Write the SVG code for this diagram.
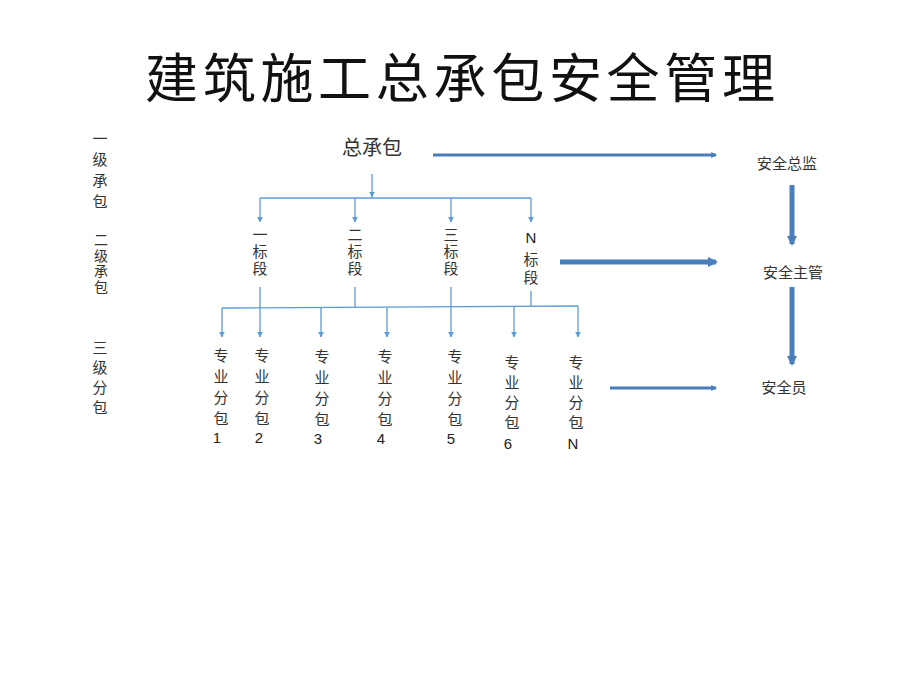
<svg xmlns="http://www.w3.org/2000/svg" width="920" height="690" viewBox="0 0 920 690">
<defs>
<style>
.t{font-family:"Noto Sans CJK SC",sans-serif;fill:#333;text-anchor:middle}
.v{font-family:"Noto Sans CJK SC",sans-serif;fill:#333;writing-mode:tb;text-anchor:start;font-size:15px}
.s{font-size:15px}
.n{font-family:"Liberation Sans",Arial,sans-serif;font-size:15px;fill:#222;text-anchor:middle}
.c{stroke:#5b9bd5;stroke-width:1.3;fill:none}
.b{stroke:#4a7ebb;fill:none}
</style>
<marker id="a" viewBox="0 0 10 10" refX="9" refY="5" markerWidth="6" markerHeight="6" markerUnits="userSpaceOnUse" orient="auto"><path d="M0,0L10,5L0,10z" fill="#5b9bd5"/></marker>
<marker id="ab" viewBox="0 0 10 10" refX="8" refY="5" markerWidth="2" markerHeight="2" orient="auto"><path d="M0,0L10,5L0,10z" fill="#4a7ebb"/></marker>
</defs>
<rect width="920" height="690" fill="#fff"/>
<g id="title"><text x="460" y="98" font-family="Liberation Serif,'Noto Sans CJK SC',serif" font-size="53" fill="#111" text-anchor="middle" textLength="630">建筑施工总承包安全管理</text></g>
<g id="lvl1"><text class="v" x="100" y="131" letter-spacing="6">一级承包</text></g>
<g id="lvl2"><text class="v" x="101" y="233" font-size="14" letter-spacing="1.5" style="font-size:14px">二级承包</text></g>
<g id="lvl3"><text class="v" x="100" y="340" letter-spacing="5">三级分包</text></g>
<g id="zcb"><text class="t" x="372" y="155" font-size="20">总承包</text></g>
<g id="bd1"><text class="v" x="260" y="227" letter-spacing="2">一标段</text></g>
<g id="bd2"><text class="v" x="355" y="227" letter-spacing="2">二标段</text></g>
<g id="bd3"><text class="v" x="451" y="227" letter-spacing="2">三标段</text></g>
<g id="bdN"><text class="n" x="531" y="243">N</text><text class="v" x="531" y="252" letter-spacing="3">标段</text></g>
<g id="fb1"><text class="v" x="221" y="348" letter-spacing="6">专业分包</text><text class="n" x="217" y="443">1</text></g>
<g id="fb2"><text class="v" x="262" y="348" letter-spacing="6">专业分包</text><text class="n" x="259" y="443">2</text></g>
<g id="fb3"><text class="v" x="322" y="349" letter-spacing="6">专业分包</text><text class="n" x="318" y="444">3</text></g>
<g id="fb4"><text class="v" x="385" y="349" letter-spacing="6">专业分包</text><text class="n" x="381" y="444">4</text></g>
<g id="fb5"><text class="v" x="455" y="349" letter-spacing="6">专业分包</text><text class="n" x="451" y="444">5</text></g>
<g id="fb6"><text class="v" x="512" y="355" letter-spacing="5">专业分包</text><text class="n" x="508" y="449">6</text></g>
<g id="fbN"><text class="v" x="576" y="355" letter-spacing="5">专业分包</text><text class="n" x="573" y="449">N</text></g>
<g id="aqzj"><text class="t s" x="787" y="169">安全总监</text></g>
<g id="aqzg"><text class="t s" x="793" y="278">安全主管</text></g>
<g id="aqy"><text class="t s" x="784" y="393">安全员</text></g>
<g id="connectors">
<path class="c" d="M372,174V197" marker-end="url(#a)"/>
<path class="c" d="M260,198H531"/>
<path class="c" d="M260,198V222" marker-end="url(#a)"/>
<path class="c" d="M355,198V222" marker-end="url(#a)"/>
<path class="c" d="M451,198V222" marker-end="url(#a)"/>
<path class="c" d="M531,198V222" marker-end="url(#a)"/>
<path class="c" d="M260,287V307M355,287V307M451,287V307M531,291V306"/>
<path class="c" d="M222,308L578,306"/>
<path class="c" d="M222,308V337" marker-end="url(#a)"/>
<path class="c" d="M260,307V337" marker-end="url(#a)"/>
<path class="c" d="M321,307V337" marker-end="url(#a)"/>
<path class="c" d="M387,307V337" marker-end="url(#a)"/>
<path class="c" d="M451,307V337" marker-end="url(#a)"/>
<path class="c" d="M514,306V337" marker-end="url(#a)"/>
<path class="c" d="M578,306V337" marker-end="url(#a)"/>
<path class="b" stroke-width="3" d="M433,155H716" marker-end="url(#ab)"/>
<path class="b" stroke-width="5" d="M560,262H716" marker-end="url(#ab)"/>
<path class="b" stroke-width="3" d="M610,388H716" marker-end="url(#ab)"/>
<path class="b" stroke-width="5" d="M792,185V244" marker-end="url(#ab)"/>
<path class="b" stroke-width="5" d="M792,287V364" marker-end="url(#ab)"/>
</g>
</svg>
